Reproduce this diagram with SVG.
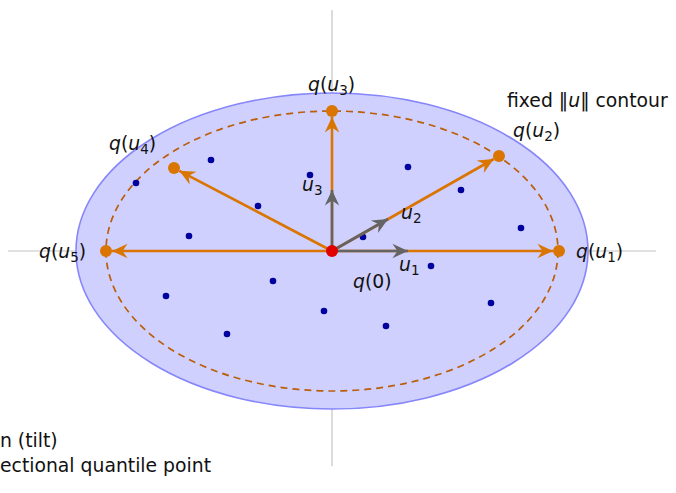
<svg xmlns="http://www.w3.org/2000/svg" width="676" height="493" viewBox="0 0 676 493">
<style>
.t{font-family:"DejaVu Sans","Liberation Sans",sans-serif;font-size:18.8px;fill:#111}
.i{font-style:italic}
.s{font-size:13.5px}
.ax{stroke:#c4c4c4;stroke-width:1.2}
.or{stroke:#d97500;stroke-width:2.6;fill:none}
.gr{stroke:#646464;stroke-width:2.6;fill:none}
.pt{fill:#d97500}
.dd{fill:#00009e}
</style>
<defs>
<marker id="ao" markerUnits="userSpaceOnUse" markerWidth="20" markerHeight="20" viewBox="-16 -8 18 16" refX="0" refY="0" orient="auto">
<path d="M0,0 L-14,-6.5 L-9.5,0 L-14,6.5 Z" fill="#d97500"/>
</marker>
<marker id="ag" markerUnits="userSpaceOnUse" markerWidth="20" markerHeight="20" viewBox="-16 -8 18 16" refX="0" refY="0" orient="auto">
<path d="M0,0 L-14,-6.5 L-9.5,0 L-14,6.5 Z" fill="#646464"/>
</marker>
</defs>
<g id="axes">
<line class="ax" x1="332" y1="10" x2="332" y2="466"/>
<line class="ax" x1="8" y1="251" x2="656" y2="251"/>
</g>
<g id="region">
<ellipse cx="332" cy="251" rx="256" ry="158" fill="#d0d0fe" stroke="#8686fb" stroke-width="1.6"/>
<ellipse cx="332" cy="251" rx="226" ry="140" fill="none" stroke="#bb5e0a" stroke-width="1.7" stroke-dasharray="7,5"/>
</g>
<g id="data">
<circle class="dd" cx="136" cy="183" r="3.3"/>
<circle class="dd" cx="211" cy="160" r="3.3"/>
<circle class="dd" cx="258" cy="206" r="3.3"/>
<circle class="dd" cx="310" cy="175" r="3.3"/>
<circle class="dd" cx="408" cy="167" r="3.3"/>
<circle class="dd" cx="461" cy="190" r="3.3"/>
<circle class="dd" cx="521" cy="228" r="3.3"/>
<circle class="dd" cx="189" cy="236" r="3.3"/>
<circle class="dd" cx="363" cy="237" r="3.3"/>
<circle class="dd" cx="431" cy="266" r="3.3"/>
<circle class="dd" cx="166" cy="296" r="3.3"/>
<circle class="dd" cx="273" cy="281" r="3.3"/>
<circle class="dd" cx="324" cy="311" r="3.3"/>
<circle class="dd" cx="386" cy="326" r="3.3"/>
<circle class="dd" cx="491" cy="303" r="3.3"/>
<circle class="dd" cx="227" cy="334" r="3.3"/>
</g>
<g id="connectors">
<line class="or" x1="332" y1="251" x2="553" y2="251" marker-end="url(#ao)"/>
<line class="or" x1="332" y1="251" x2="493.8" y2="159" marker-end="url(#ao)"/>
<line class="or" x1="332" y1="251" x2="332" y2="117" marker-end="url(#ao)"/>
<line class="or" x1="332" y1="251" x2="179.3" y2="170.8" marker-end="url(#ao)"/>
<line class="or" x1="332" y1="251" x2="112" y2="251" marker-end="url(#ao)"/>
<line class="gr" x1="332" y1="251" x2="408" y2="251" marker-end="url(#ag)"/>
<line class="gr" x1="332" y1="251" x2="388" y2="219" marker-end="url(#ag)"/>
<line class="gr" x1="332" y1="251" x2="332" y2="190" marker-end="url(#ag)"/>
</g>
<g id="q0"><circle cx="332" cy="251" r="6" fill="#e00000"/>
<text class="t" x="353" y="288"><tspan class="i">q</tspan>(0)</text></g>
<g id="qu1"><circle class="pt" cx="559" cy="251" r="6"/>
<text class="t" x="576" y="258"><tspan class="i">q</tspan>(<tspan class="i">u</tspan><tspan class="s" dy="4">1</tspan><tspan dy="-4">)</tspan></text></g>
<g id="qu2"><circle class="pt" cx="499" cy="156" r="6"/>
<text class="t" x="513" y="137"><tspan class="i">q</tspan>(<tspan class="i">u</tspan><tspan class="s" dy="4">2</tspan><tspan dy="-4">)</tspan></text></g>
<g id="qu3"><circle class="pt" cx="332" cy="111" r="6"/>
<text class="t" x="308" y="91"><tspan class="i">q</tspan>(<tspan class="i">u</tspan><tspan class="s" dy="4">3</tspan><tspan dy="-4">)</tspan></text></g>
<g id="qu4"><circle class="pt" cx="174" cy="168" r="6"/>
<text class="t" x="109" y="150"><tspan class="i">q</tspan>(<tspan class="i">u</tspan><tspan class="s" dy="4">4</tspan><tspan dy="-4">)</tspan></text></g>
<g id="qu5"><circle class="pt" cx="106" cy="251" r="6"/>
<text class="t" x="39" y="258"><tspan class="i">q</tspan>(<tspan class="i">u</tspan><tspan class="s" dy="4">5</tspan><tspan dy="-4">)</tspan></text></g>
<g id="labels">
<text class="t" x="399" y="271"><tspan class="i">u</tspan><tspan class="s" dy="4">1</tspan></text>
<text class="t" x="401" y="219"><tspan class="i">u</tspan><tspan class="s" dy="4">2</tspan></text>
<text class="t" x="302" y="191"><tspan class="i">u</tspan><tspan class="s" dy="4">3</tspan></text>
<text class="t" x="507" y="107">fixed ‖<tspan class="i">u</tspan>‖ contour</text>
<text class="t" x="0" y="447">n (tilt)</text>
<text class="t" x="0" y="472">ectional quantile point</text>
</g>
</svg>
